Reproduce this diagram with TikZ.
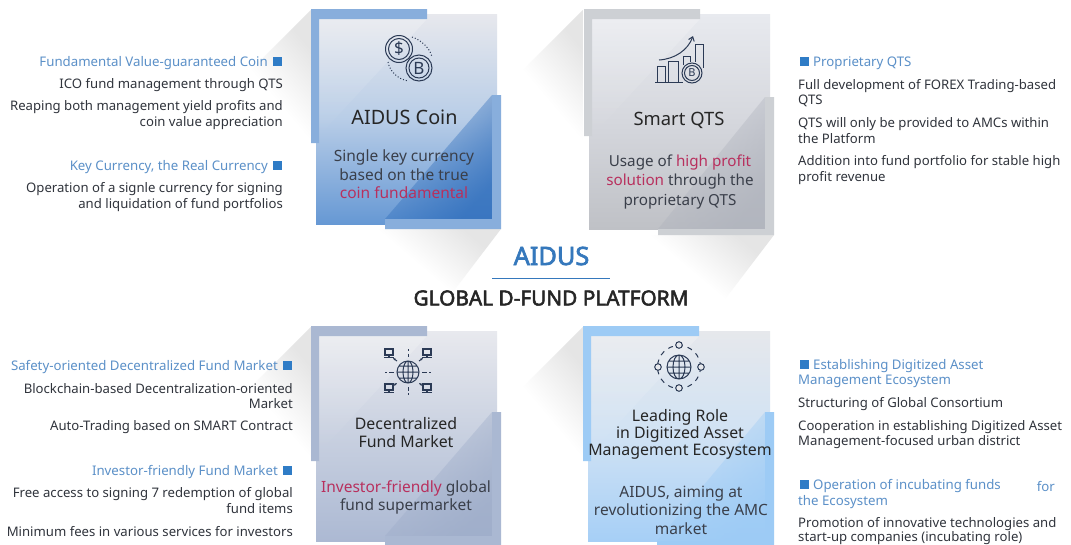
\documentclass[tikz,border=0pt]{standalone}
\usepackage{fontspec}
\setmainfont{Noto Sans}
\newfontfamily\hbfont[FakeBold=2.5]{Noto Sans}
\usetikzlibrary{fadings,arrows.meta}
\definecolor{ink}{HTML}{30343C}
\definecolor{bluehead}{HTML}{5B90C8}
\definecolor{sq}{HTML}{2F7CC6}
\definecolor{navy}{HTML}{2B3A55}
\definecolor{titleblue}{HTML}{3578BC}
\definecolor{rosea}{HTML}{B8305E}
\definecolor{cardtxt}{HTML}{3A3F4A}
\tikzfading[name=fadesw,top color=transparent!0,bottom color=transparent!100,middle color=transparent!100]
\tikzfading[name=fadebr,top color=transparent!0,bottom color=transparent!100]
\tikzset{
 x=1pt,y=-1pt,
 body/.style={font=\fontsize{13.15}{14}\selectfont,text=ink,inner sep=0pt},
 head/.style={font=\fontsize{13.25}{14}\selectfont,text=bluehead,inner sep=0pt},
 ltxt/.style={anchor=west},
 rtxt/.style={anchor=east},
 cardtitle/.style={font=\fontsize{15.9}{18}\selectfont,text=black!85,inner sep=0pt},
 cardbody/.style={font=\fontsize{15.5}{18}\selectfont,text=cardtxt,inner sep=0pt},
 bullet/.style={fill=sq,draw=none},
 icon/.style={draw=navy,line width=1pt,fill=none},
 shadowpoly/.style={fill=black!10,draw=none,path fading=fadesw,fading angle=-45},
}
\newcommand\cardshape[9]{%
 \shade[top color=cardtop,bottom color=cardbot,middle color=cardmid] (#1,#2) rectangle (#3,#4);
 \fill[white,fill opacity=.22,path fading=south] (#1+3,#2+5) -- (#1+111,#2+5) -- (#1+3,#2+122) -- cycle;
 \fill[cardtri,fill opacity=.75,path fading=fadebr,fading angle=-135] (#3-5,#6) -- (#3-5,#9) -- (#7,#9) -- cycle;
 \fill[cardl] (#1-5,#2-5) -- (#1+111,#2-5) -- (#1+111,#2+5) -- (#1+3,#2+5) -- (#1+3,#5) -- (#1-5,#5) -- cycle;
 \fill[cardl] (#3+4,#6) -- (#3+4,#8) -- (#7,#8) -- (#7,#9) -- (#3-5,#9) -- (#3-5,#6) -- cycle;
}
\begin{document}
\begin{tikzpicture}
\useasboundingbox (0,0) rectangle (1071,544);
\fill[white] (0,0) rectangle (1071,544);
% long shadows
\fill[shadowpoly] (311,10) -- (201,120) -- (201,140) -- (311,140) -- cycle;
\fill[shadowpoly] (583,10) -- (473,120) -- (473,140) -- (583,140) -- cycle;
\fill[shadowpoly] (311,327) -- (201,437) -- (201,457) -- (311,457) -- cycle;
\fill[shadowpoly] (583,327) -- (473,437) -- (473,457) -- (583,457) -- cycle;
\fill[shadowpoly] (378,229) -- (501,229) -- (421,334) -- (378,334) -- cycle;
\fill[shadowpoly] (650,235) -- (774,235) -- (694,340) -- (650,340) -- cycle;
% card 1
\definecolor{cardtop}{HTML}{E7E8ED}\definecolor{cardmid}{HTML}{B8CDE7}\definecolor{cardbot}{HTML}{6698D4}\definecolor{cardl}{HTML}{88AEDC}\definecolor{cardtri}{HTML}{2A6ABA}
\cardshape{316}{14}{497}{224}{143}{95}{385}{229}{219}
% card 2
\definecolor{cardtop}{HTML}{E8EAEF}\definecolor{cardmid}{HTML}{D5D7DD}\definecolor{cardbot}{HTML}{BFC1C6}\definecolor{cardl}{HTML}{CDD0D4}\definecolor{cardtri}{HTML}{AEB2BC}
\cardshape{589}{14}{770}{229}{136}{97}{658}{235}{229}
% card 3
\definecolor{cardtop}{HTML}{E8E9EE}\definecolor{cardmid}{HTML}{C8D0E0}\definecolor{cardbot}{HTML}{ACB9D3}\definecolor{cardl}{HTML}{AAB8D2}\definecolor{cardtri}{HTML}{9CABC8}
\cardshape{316}{331}{497}{541}{461}{412}{385}{546}{536}
% card 4
\definecolor{cardtop}{HTML}{E6E8EC}\definecolor{cardmid}{HTML}{D0E2F4}\definecolor{cardbot}{HTML}{A6CFF6}\definecolor{cardl}{HTML}{9DCBF5}\definecolor{cardtri}{HTML}{9ACAF5}
\cardshape{588}{331}{770}{541}{461}{412}{657}{546}{541}
% icon: coins
\draw[icon] (399,49) circle (13.5) (399,49) circle (10.5);
\draw[icon] (419,68) circle (13) (419,68) circle (10);
\node[name=coinD,font=\fontsize{17}{17}\selectfont,text=navy,inner sep=0pt] at (399,49) {\$};
\node[name=coinB,font=\fontsize{17}{17}\selectfont,text=navy,inner sep=0pt] at (419,68) {B};
\draw[navy,line width=1pt,dotted] (412,37) .. controls (421,40) and (430,48) .. (432,57);
\draw[navy,line width=1pt,dotted] (388,62) .. controls (390,72) and (398,79) .. (408,81);
% icon: chart
\draw[icon] (657,82) -- (657,66) -- (665,66) -- (665,82);
\draw[icon] (668,82) -- (668,61) -- (678,61) -- (678,82);
\draw[icon] (655,82) -- (683,82);
\draw[icon] (683,65) -- (683,56) -- (690,56) -- (690,62);
\draw[icon] (695,62) -- (695,44) -- (703,44) -- (703,68);
\draw[icon] (692,73) circle (10) (692,73) circle (7.5);
\node[name=chartB,font=\fontsize{11}{11}\selectfont,text=navy,inner sep=0pt] at (692,73) {B};
\draw[icon,-{Straight Barb[length=4pt,width=6pt]}] (659,60) .. controls (675,59) and (688,50) .. (693,36);
% icon: network
\draw[icon] (408,372) circle (11) (408,372) ellipse (5 and 11) (397,372) -- (419,372) (399,366) -- (417,366) (399,378) -- (417,378) (408,361) -- (408,383);
\foreach \mx/\my in {389/353,427/353,389/388,427/388}{
 \draw[icon,line width=1.1pt] (\mx-4,\my-4) rectangle (\mx+4,\my+2) (\mx,\my+2) -- (\mx,\my+4.5) (\mx-5,\my+4.5) -- (\mx+5,\my+4.5);
}
\draw[icon] (408,349) -- (408,351) (408,353.5) -- (408,357) (408,387) -- (408,391) (408,393) -- (408,395) (385,372) -- (387,372) (389,372) -- (394,372) (422,372) -- (427,372) (429,372) -- (431,372);
\draw[icon,-{Latex[length=2.5pt,width=2.5pt]}] (397,361) -- (393,358);
\draw[icon,-{Latex[length=2.5pt,width=2.5pt]}] (419,361) -- (423,358);
\draw[icon,{Latex[length=2.5pt,width=2.5pt]}-] (397,383) -- (393,386);
\draw[icon,{Latex[length=2.5pt,width=2.5pt]}-] (419,383) -- (423,386);
% icon: globe ring
\draw[icon] (679,367) circle (12) (679,367) ellipse (6 and 12) (667,367) -- (691,367) (669,361) -- (689,361) (669,373) -- (689,373) (679,355) -- (679,379);
\draw[icon,dash pattern=on 5pt off 5pt] (679,367) circle (21.5);
\foreach \cx/\cy in {679/345,679/388,658/367,701/367}{
 \draw[icon,fill=cardtop] (\cx,\cy) circle (3.3);
}
% titles
\node[name=tAidus,font=\hbfont\fontsize{25.3}{26}\selectfont,text=titleblue,inner sep=0pt] at (551.5,256) {AIDUS};
\coordinate (ruleL) at (492,278); \coordinate (ruleR) at (610,278);
\draw[titleblue,line width=.9pt] (ruleL) -- (ruleR);
\node[name=tGlobal,font=\hbfont\fontsize{20.8}{21}\selectfont,text=black!85,inner sep=0pt] at (551,298) {GLOBAL D-FUND PLATFORM};
% card texts
\node[cardtitle,name=c1a,font=\fontsize{19.8}{20}\selectfont] at (404.5,117) {AIDUS Coin};
\node[cardbody,name=c1b] at (404,157) {Single key currency};
\node[cardbody,name=c1c] at (404,175) {based on the true};
\node[cardbody,name=c1d,text=rosea] at (404,193) {coin fundamental};
\node[cardtitle,name=c2a,font=\fontsize{18.4}{20}\selectfont] at (679,120) {Smart QTS};
\node[cardbody,name=c2b,font=\fontsize{15.2}{18}\selectfont] at (680,163) {Usage of \textcolor{rosea}{high profit}};
\node[cardbody,name=c2c,font=\fontsize{15.2}{18}\selectfont] at (680,182) {\textcolor{rosea}{solution} through the};
\node[cardbody,name=c2d,font=\fontsize{15.2}{18}\selectfont] at (680,202) {proprietary QTS};
\node[cardtitle,name=c3a] at (406,424) {Decentralized};
\node[cardtitle,name=c3b] at (406,442) {Fund Market};
\node[cardbody,name=c3c] at (406,488) {\textcolor{rosea}{Investor-friendly} global};
\node[cardbody,name=c3d] at (406,506) {fund supermarket};
\node[cardtitle,name=c4a] at (680,417) {Leading Role};
\node[cardtitle,name=c4b] at (680,434) {in Digitized Asset};
\node[cardtitle,name=c4c] at (680,452) {Management Ecosystem};
\node[cardbody,name=c4d] at (681,494) {AIDUS, aiming at};
\node[cardbody,name=c4e] at (681,511) {revolutionizing the AMC};
\node[cardbody,name=c4f] at (681,529) {market};
% top left
\node[head,rtxt,name=a1] at (268,63) {Fundamental Value-guaranteed Coin};
\fill[bullet] (273,57) rectangle (282,66);
\node[body,rtxt,name=a2] at (283,85) {ICO fund management through QTS};
\node[body,rtxt,name=a3] at (283,107) {Reaping both management yield profits and};
\node[body,rtxt,name=a4] at (283,123) {coin value appreciation};
\node[head,rtxt,name=a5] at (268,167) {Key Currency, the Real Currency};
\fill[bullet] (273,161) rectangle (282,170);
\node[body,rtxt,name=a6] at (283,189) {Operation of a signle currency for signing};
\node[body,rtxt,name=a7] at (283,205) {and liquidation of fund portfolios};
% top right
\fill[bullet] (800,57) rectangle (809,66);
\node[head,ltxt,name=b1] at (813,63) {Proprietary QTS};
\node[body,ltxt,name=b2] at (798,86) {Full development of FOREX Trading-based};
\node[body,ltxt,name=b3] at (798,101) {QTS};
\node[body,ltxt,name=b4] at (798,124) {QTS will only be provided to AMCs within};
\node[body,ltxt,name=b5] at (798,139) {the Platform};
\node[body,ltxt,name=b6] at (798,162) {Addition into fund portfolio for stable high};
\node[body,ltxt,name=b7] at (798,178) {profit revenue};
% bottom left
\node[head,rtxt,name=d1] at (278,367) {Safety-oriented Decentralized Fund Market};
\fill[bullet] (283,361) rectangle (292,370);
\node[body,rtxt,name=d2] at (293,389) {Blockchain-based Decentralization-oriented};
\node[body,rtxt,name=d3] at (293,404) {Market};
\node[body,rtxt,name=d4] at (293,427) {Auto-Trading based on SMART Contract};
\node[head,rtxt,name=d5] at (278,472) {Investor-friendly Fund Market};
\fill[bullet] (283,466) rectangle (292,475);
\node[body,rtxt,name=d6] at (293,494) {Free access to signing 7 redemption of global};
\node[body,rtxt,name=d7] at (293,509) {fund items};
\node[body,rtxt,name=d8] at (293,532) {Minimum fees in various services for investors};
% bottom right
\fill[bullet] (800,360) rectangle (809,369);
\node[head,ltxt,name=e1] at (813,366) {Establishing Digitized Asset};
\node[head,ltxt,name=e2] at (798,381) {Management Ecosystem};
\node[body,ltxt,name=e3] at (798,404) {Structuring of Global Consortium};
\node[body,ltxt,name=e4] at (798,427) {Cooperation in establishing Digitized Asset};
\node[body,ltxt,name=e5] at (798,442) {Management-focused urban district};
\fill[bullet] (800,480) rectangle (809,489);
\node[head,ltxt,name=e6] at (813,486) {Operation of incubating funds};
\node[head,anchor=east,name=e6b] at (1055,486) {for};
\node[head,ltxt,name=e7] at (798,502) {the Ecosystem};
\node[body,ltxt,name=e8] at (798,524) {Promotion of innovative technologies and};
\node[body,ltxt,name=e9] at (798,538) {start-up companies (incubating role)};
\end{tikzpicture}
\end{document}
